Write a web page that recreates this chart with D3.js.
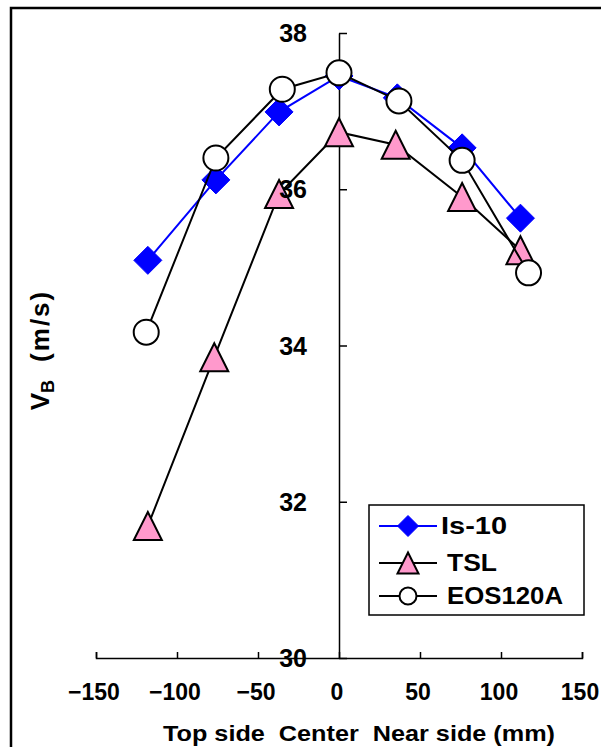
<!DOCTYPE html>
<html lang="en">
<head>
<meta charset="UTF-8">
<title>VB profile</title>
<style>
  body { margin: 0; background: #fff; }
  svg { display: block; }
  text { font-family: "Liberation Sans", Arial, sans-serif; font-weight: bold; fill: #000; }
</style>
</head>
<body>
<svg id="chart" width="601" height="747"></svg>
<script src="https://d3js.org/d3.v7.min.js"></script>
<script>
// series data (position mm, VB m/s)
const isX   = [-118, -76, -37, 0, 36, 76, 112];
const isY   = [35.09, 36.12, 36.99, 37.45, 37.17, 36.53, 35.63];
const tslX  = [-118, -77, -37, 0, 35, 76, 112];
const tslY  = [31.69, 33.85, 35.94, 36.73, 36.57, 35.90, 35.22];
const eosX  = [-119, -76, -35, 0, 37, 76, 117];
const eosY  = [34.17, 36.40, 37.28, 37.49, 37.13, 36.37, 34.93];
const xTicks = [-150, -100, -50, 0, 50, 100, 150];
const yTicks = [30, 32, 34, 36, 38];
const seriesNames = ['Is-10', 'TSL', 'EOS120A'];

const svg = d3.select('#chart');
const x = d3.scaleLinear().domain([-150, 150]).range([96, 582]);
const y = d3.scaleLinear().domain([30, 38]).range([658, 33]);

// outer frame
svg.append('rect').attr('x', 11).attr('y', 8).attr('width', 620).attr('height', 800)
  .attr('fill', '#fff').attr('stroke', '#000').attr('stroke-width', 2.5);

// x axis (ticks point up, at y=30)
const gx = svg.append('g').attr('transform', `translate(0,${y(30)})`)
  .call(d3.axisTop(x).tickValues(xTicks).tickSize(6).tickSizeOuter(6).tickFormat(''));
gx.select('.domain').attr('stroke', '#000').attr('stroke-width', 1.5);
gx.selectAll('.tick line').attr('stroke', '#000').attr('stroke-width', 1.5);

// y axis at x=0 (ticks point right)
const gy = svg.append('g').attr('transform', `translate(${x(0)},0)`)
  .call(d3.axisRight(y).tickValues(yTicks).tickSize(8).tickSizeOuter(0).tickFormat(''));
gy.select('.domain').attr('stroke', '#000').attr('stroke-width', 1.5);
gy.selectAll('.tick line').attr('stroke', '#000').attr('stroke-width', 1.5);

const line = d3.line().x(d => x(d[0])).y(d => y(d[1]));
const zip = (a, b) => a.map((v, i) => [v, b[i]]);

function drawSeries(pts, color, width, marker) {
  svg.append('path').datum(pts).attr('d', line)
    .attr('fill', 'none').attr('stroke', color).attr('stroke-width', width);
  svg.selectAll(null).data(pts).enter().append('path')
    .attr('transform', d => `translate(${x(d[0])},${y(d[1])})`)
    .attr('d', marker.d).attr('fill', marker.fill)
    .attr('stroke', marker.stroke).attr('stroke-width', marker.sw);
}

function diamond(h) { return `M0,${-h}L${h},0L0,${h}L${-h},0Z`; }
function triangle(w) { const h = w; return `M0,${-h/2}L${w/2},${h/2}L${-w/2},${h/2}Z`; }
function circle(r) { return d3.arc()({innerRadius: 0, outerRadius: r, startAngle: 0, endAngle: 2 * Math.PI}); }

const markers = [
  { d: diamond(14), fill: '#0000ff', stroke: '#0000ff', sw: 1 },
  { d: triangle(28), fill: '#ff99cc', stroke: '#000', sw: 2 },
  { d: circle(12.5), fill: '#fff', stroke: '#000', sw: 2 }
];
const legendMarkers = [
  { d: diamond(10.5), fill: '#0000ff', stroke: '#0000ff', sw: 1 },
  { d: triangle(21), fill: '#ff99cc', stroke: '#000', sw: 2 },
  { d: circle(8.5), fill: '#fff', stroke: '#000', sw: 2 }
];
const lineColors = ['#0000ff', '#000', '#000'];

drawSeries(zip(isX, isY), lineColors[0], 2, markers[0]);
drawSeries(zip(tslX, tslY), lineColors[1], 2, markers[1]);
drawSeries(zip(eosX, eosY), lineColors[2], 2, markers[2]);

// tick labels on top of marks
svg.append('g').selectAll('text').data(yTicks).enter().append('text')
  .attr('x', 307).attr('y', d => y(d)).attr('dy', '0.36em')
  .attr('text-anchor', 'end').attr('font-size', 25).text(d => d);
svg.append('g').selectAll('text').data(xTicks).enter().append('text')
  .attr('x', d => x(d) - 2).attr('y', 692).attr('dy', '0.36em')
  .attr('text-anchor', 'middle').attr('font-size', 23)
  .text(d => d < 0 ? '\u2212' + Math.abs(d) : d);

// axis titles
svg.append('text').attr('x', 163).attr('y', 733).attr('dy', '0.36em')
  .attr('font-size', 22).style('white-space', 'pre')
  .attr('textLength', 392).attr('lengthAdjust', 'spacingAndGlyphs')
  .text('Top side  Center  Near side (mm)');

const yt = svg.append('text').attr('transform', 'translate(49,350) rotate(-90)')
  .attr('text-anchor', 'middle').attr('font-size', 26).style('white-space', 'pre');
yt.append('tspan').text('V');
yt.append('tspan').attr('font-size', 18).attr('dy', 5).text('B');
yt.append('tspan').attr('dy', -5).attr('dx', 18).attr('letter-spacing', 2).text('(m/s)');

// legend
const lg = svg.append('g');
lg.append('rect').attr('x', 369).attr('y', 505).attr('width', 215).attr('height', 110)
  .attr('fill', '#fff').attr('stroke', '#000').attr('stroke-width', 1.5);
const rowsY = [526, 563, 596];
const labelX = [441, 447, 447];
const labelW = [66, 50, 116];
seriesNames.forEach((name, i) => {
  lg.append('line').attr('x1', 379).attr('x2', 437).attr('y1', rowsY[i]).attr('y2', rowsY[i])
    .attr('stroke', lineColors[i]).attr('stroke-width', 2);
  lg.append('path').attr('transform', `translate(408,${rowsY[i]})`)
    .attr('d', legendMarkers[i].d).attr('fill', legendMarkers[i].fill)
    .attr('stroke', legendMarkers[i].stroke).attr('stroke-width', legendMarkers[i].sw);
  lg.append('text').attr('x', labelX[i]).attr('y', rowsY[i]).attr('dy', '0.36em')
    .attr('font-size', 23).attr('textLength', labelW[i]).attr('lengthAdjust', 'spacingAndGlyphs')
    .text(name);
});
</script>
</body>
</html>
